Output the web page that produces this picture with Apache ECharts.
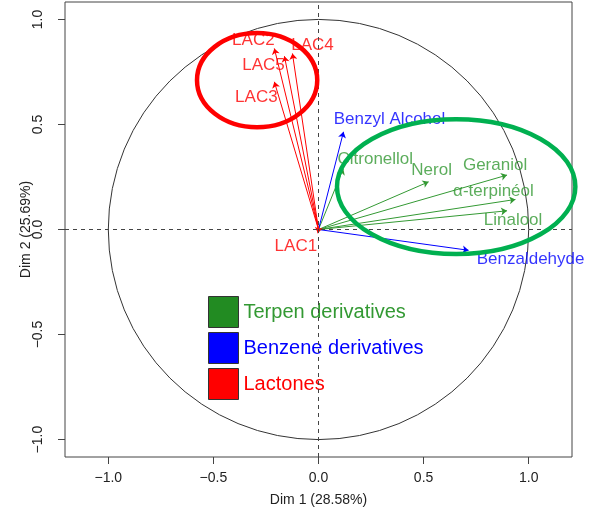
<!DOCTYPE html>
<html>
<head>
<meta charset="utf-8">
<script src="https://cdn.jsdelivr.net/npm/echarts@6/dist/echarts.min.js"></script>
<style>
  html, body { margin: 0; padding: 0; background: #fff; }
  #pca { width: 589px; height: 507px; }
</style>
</head>
<body>
<div id="pca"></div>
<script>
// variable coordinates on Dim 1 / Dim 2
var terpenNames = ['Citronellol', 'Nerol', 'Geraniol', 'α-terpinéol', 'Linalool']
var terpenX = [0.118, 0.524, 0.897, 0.937, 0.897]
var terpenY = [0.29, 0.227, 0.259, 0.143, 0.089]

var benzeneNames = ['Benzyl Alcohol', 'Benzaldehyde']
var benzeneX = [0.119, 0.714]
var benzeneY = [0.465, -0.099]

var lactoneNames = ['LAC1', 'LAC2', 'LAC3', 'LAC4', 'LAC5']
var lactoneX = [-0.003, -0.21, -0.21, -0.124, -0.162]
var lactoneY = [-0.018, 0.862, 0.703, 0.838, 0.825]

var groupNames = ['Terpen derivatives', 'Benzene derivatives', 'Lactones']
var axisTicks = [-1, -0.5, 0, 0.5, 1]

// circle of correlations + hand drawn ellipses: [cx, cy, rx, ry]
var unitCircle = [[0, 0, 1, 1]]
var marks = [[-0.292, 0.711, 0.286, 0.224], [0.655, 0.204, 0.567, 0.321]]

// label offsets in px (label placement like in the R plot)
var labelOffset = {
  'LAC1': [-22, 13], 'LAC2': [-21, -8], 'LAC3': [-18, 15], 'LAC4': [20, -8], 'LAC5': [-21, 9],
  'Benzyl Alcohol': [46, -13], 'Benzaldehyde': [62, 9],
  'Citronellol': [32, -9], 'Nerol': [3, -12], 'Geraniol': [-12, -10],
  'α-terpinéol': [-22, -8], 'Linalool': [6, 10]
}
var markColors = ['#ff0000', '#00b050']

var font = "'Liberation Sans', Arial, Helvetica, sans-serif"
var green = '#339933', blue = '#0000ff', red = '#ff0000'

function arrowSeries(name, names, xs, ys, color) {
  return {
    name: name,
    type: 'lines',
    coordinateSystem: 'cartesian2d',
    z: 3,
    symbol: ['none', 'arrow'],
    symbolSize: [0, 6],
    lineStyle: { color: color, width: 1, opacity: 1 },
    silent: true,
    data: names.map(function (n, i) {
      return { coords: [[0, 0], [xs[i], ys[i]]] }
    })
  }
}

function labelSeries(name, names, xs, ys, color) {
  return {
    name: name,
    type: 'scatter',
    z: 4,
    symbolSize: 0,
    silent: true,
    label: {
      show: true,
      position: 'inside',
      color: color,
      fontSize: 17,
      fontFamily: font,
      formatter: function (p) { return p.name }
    },
    data: names.map(function (n, i) {
      return { name: n, value: [xs[i], ys[i]], label: { offset: labelOffset[n] } }
    })
  }
}

function ellipsePath(c, s) {
  var rx = Math.abs(s[0]), ry = Math.abs(s[1])
  return 'M' + (c[0] - rx) + ' ' + c[1] +
    ' A' + rx + ' ' + ry + ' 0 1 0 ' + (c[0] + rx) + ' ' + c[1] +
    ' A' + rx + ' ' + ry + ' 0 1 0 ' + (c[0] - rx) + ' ' + c[1] + ' Z'
}

function tickFmt(v) {
  return v.toFixed(1).replace('-', '\u2212')
}

var myChart = echarts.init(document.getElementById('pca'))
myChart.setOption({
  animation: false,
  textStyle: { fontFamily: font },
  grid: {
    left: 65, right: 17, top: 2, bottom: 50,
    show: true, borderColor: '#444', borderWidth: 1,
    outerBoundsMode: 'none'
  },
  legend: {
    left: 208, top: 296,
    orient: 'vertical',
    padding: 0,
    itemGap: 4,
    itemWidth: 30,
    itemHeight: 31,
    selectedMode: false,
    textStyle: { fontSize: 20, fontFamily: font },
    data: [
      { name: groupNames[0], icon: 'rect', itemStyle: { color: '#228b22', borderColor: '#333', borderWidth: 1 }, textStyle: { color: green } },
      { name: groupNames[1], icon: 'rect', itemStyle: { color: blue, borderColor: '#333', borderWidth: 1 }, textStyle: { color: blue } },
      { name: groupNames[2], icon: 'rect', itemStyle: { color: red, borderColor: '#333', borderWidth: 1 }, textStyle: { color: red } }
    ]
  },
  xAxis: {
    type: 'value',
    min: -1.206, max: 1.206,
    name: 'Dim 1 (28.58%)',
    nameLocation: 'middle',
    nameGap: 36,
    nameMoveOverlap: false,
    nameTextStyle: { fontSize: 14, color: '#222', fontFamily: font },
    splitLine: { show: false },
    axisLine: { show: false, onZero: false },
    axisTick: { show: true, length: 7, lineStyle: { color: '#444' }, customValues: axisTicks },
    axisLabel: { fontSize: 14, color: '#222', margin: 14, customValues: axisTicks, formatter: tickFmt }
  },
  yAxis: {
    type: 'value',
    min: -1.083, max: 1.083,
    name: 'Dim 2 (25.69%)',
    nameLocation: 'middle',
    nameGap: 32,
    nameRotate: 90,
    nameMoveOverlap: false,
    nameTextStyle: { fontSize: 14, color: '#222', fontFamily: font },
    splitLine: { show: false },
    axisLine: { show: false, onZero: false },
    axisTick: { show: true, length: 7, lineStyle: { color: '#444' }, customValues: axisTicks },
    axisLabel: { fontSize: 14, color: '#222', margin: 20, rotate: 90, customValues: axisTicks, formatter: tickFmt }
  },
  series: [
    {
      type: 'custom',
      z: 1,
      silent: true,
      clip: false,
      data: unitCircle,
      renderItem: function (params, api) {
        var c = api.coord([api.value(0), api.value(1)])
        var s = api.size([api.value(2), api.value(3)])
        return {
          type: 'path',
          shape: { pathData: ellipsePath(c, s) },
          style: { fill: 'none', stroke: '#333', lineWidth: 1 }
        }
      },
      markLine: {
        silent: true,
        symbol: 'none',
        label: { show: false },
        lineStyle: { type: [4, 4], color: '#444', width: 1 },
        data: [{ xAxis: 0 }, { yAxis: 0 }]
      }
    },
    arrowSeries(groupNames[0], terpenNames, terpenX, terpenY, green),
    arrowSeries(groupNames[1], benzeneNames, benzeneX, benzeneY, blue),
    arrowSeries(groupNames[2], lactoneNames, lactoneX, lactoneY, red),
    labelSeries(groupNames[0], terpenNames, terpenX, terpenY, green),
    labelSeries(groupNames[1], benzeneNames, benzeneX, benzeneY, blue),
    labelSeries(groupNames[2], lactoneNames, lactoneX, lactoneY, red),
    {
      type: 'custom',
      z: 5,
      silent: true,
      clip: false,
      data: marks,
      renderItem: function (params, api) {
        var c = api.coord([api.value(0), api.value(1)])
        var s = api.size([api.value(2), api.value(3)])
        return {
          type: 'path',
          shape: { pathData: ellipsePath(c, s) },
          style: { fill: 'none', stroke: markColors[params.dataIndex], lineWidth: 4.5 }
        }
      }
    }
  ]
})
</script>
</body>
</html>
